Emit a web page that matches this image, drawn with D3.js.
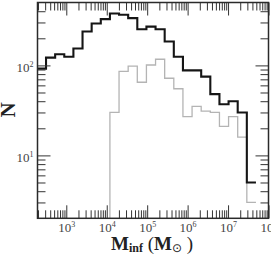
<!DOCTYPE html>
<html>
<head>
<meta charset="utf-8">
<script src="https://cdn.jsdelivr.net/npm/d3@7"></script>
<style>
  html, body { margin: 0; padding: 0; background: #fff; }
  svg { display: block; }
</style>
</head>
<body>
<svg id="chart"></svg>
<script>
// ---- data ----
// log10 bins of M_inf: first lower edge and width (decades)
const binStartLog = 2.273;
const binWidthLog = 0.2257;

// all halos (black)
const countsAll = [92, 122, 133, 125, 154, 238, 292, 327, 378, 365, 335, 252,
                   270, 252, 184, 125, 88, 88, 75, 48, 37, 40, 30, 5];
// subset (grey), zero below 10^4
const countsSub = [0, 0, 0, 0, 0, 0, 0, 0, 30, 86, 98, 65,
                   101, 117, 72, 55, 27, 35, 31, 30, 21, 27, 16, 3];

const xMajor = [1e3, 1e4, 1e5, 1e6, 1e7, 1e8];
const yMajor = [10, 100];
const xDomain = [Math.pow(10, 2.288), 1e8];
const yDomain = [2, 500];

// ---- layout ----
const width = 271, height = 254;
const frame = { left: 37.5, right: 268.5, top: 2.5, bottom: 218.3 };

const svg = d3.select("#chart").attr("width", width).attr("height", height);

const x = d3.scaleLog().domain(xDomain).range([frame.left, frame.right]);
const y = d3.scaleLog().domain(yDomain).range([frame.bottom, frame.top]);

// minor ticks 2..9 x 10^k
function minorTicks(domain) {
  const out = [];
  for (let e = -1; e <= 9; e++) {
    for (let m = 2; m <= 9; m++) {
      const v = m * Math.pow(10, e);
      if (v > domain[0] && v < domain[1]) out.push(v);
    }
  }
  return out;
}

svg.append("clipPath").attr("id", "plot-clip")
  .append("rect")
  .attr("x", frame.left).attr("y", frame.top)
  .attr("width", frame.right - frame.left).attr("height", frame.bottom - frame.top);

// ---- histograms ----
const edges = d3.range(countsAll.length + 1).map(i => Math.pow(10, binStartLog + i * binWidthLog));

function stepPoints(counts) {
  const pts = [];
  counts.forEach((c, i) => {
    if (c <= 0) return;
    if (pts.length === 0) pts.push([edges[i], yDomain[0]]);
    pts.push([edges[i], c]);
  });
  const lastIdx = counts.length - 1;
  pts.push([edges[lastIdx + 1], counts[lastIdx]]);
  return pts;
}

const step = d3.line()
  .x(d => x(d[0]))
  .y(d => y(d[1]))
  .curve(d3.curveStepAfter);

const plot = svg.append("g").attr("clip-path", "url(#plot-clip)");

plot.append("path")
  .attr("d", step(stepPoints(countsSub)))
  .attr("fill", "none")
  .attr("stroke", "#b4b4b4")
  .attr("stroke-width", 1.3);

// black line starts at the frame (first bin partly outside)
const allPts = countsAll.map((c, i) => [edges[i], c]);
allPts.push([edges[countsAll.length], countsAll[countsAll.length - 1]]);
plot.append("path")
  .attr("d", step(allPts))
  .attr("fill", "none")
  .attr("stroke", "#151515")
  .attr("stroke-width", 2.1);

// ---- axes (ticks inward on all sides) ----
const tickColor = "#333";
const majorLen = 13, minorLen = 8;
const serif = "'Liberation Serif', 'DejaVu Serif', serif";

function styleAxis(g) {
  g.select(".domain").remove();
  g.selectAll(".tick line").attr("stroke", tickColor).attr("stroke-width", 1);
}

function supLabels(g, anchor) {
  g.selectAll(".tick text").each(function (d) {
    const t = d3.select(this);
    const exp = Math.round(Math.log10(d));
    t.text(null)
      .attr("fill", "#444")
      .attr("font-family", serif)
      .attr("font-size", 13)
      .attr("text-anchor", anchor);
    t.append("tspan").text("10");
    t.append("tspan").attr("dy", -5).attr("font-size", 8).text(exp);
  });
}

// bottom
const xBot = svg.append("g").attr("transform", `translate(0,${frame.bottom})`)
  .call(d3.axisBottom(x).tickValues(xMajor).tickSize(-majorLen).tickPadding(4.5));
styleAxis(xBot);
supLabels(xBot, "middle");
xBot.selectAll(".tick text").attr("dy", "0.71em");

svg.append("g").attr("transform", `translate(0,${frame.bottom})`)
  .call(d3.axisBottom(x).tickValues(minorTicks(xDomain)).tickSize(-minorLen).tickFormat(""))
  .call(styleAxis);

// top
svg.append("g").attr("transform", `translate(0,${frame.top})`)
  .call(d3.axisTop(x).tickValues(xMajor).tickSize(-majorLen).tickFormat(""))
  .call(styleAxis);
svg.append("g").attr("transform", `translate(0,${frame.top})`)
  .call(d3.axisTop(x).tickValues(minorTicks(xDomain)).tickSize(-minorLen).tickFormat(""))
  .call(styleAxis);

// left
const yLeft = svg.append("g").attr("transform", `translate(${frame.left},0)`)
  .call(d3.axisLeft(y).tickValues(yMajor).tickSize(-majorLen).tickPadding(4));
styleAxis(yLeft);
supLabels(yLeft, "end");
yLeft.selectAll(".tick text").attr("dy", "0.45em");

svg.append("g").attr("transform", `translate(${frame.left},0)`)
  .call(d3.axisLeft(y).tickValues(minorTicks(yDomain)).tickSize(-minorLen).tickFormat(""))
  .call(styleAxis);

// right
svg.append("g").attr("transform", `translate(${frame.right},0)`)
  .call(d3.axisRight(y).tickValues(yMajor).tickSize(-majorLen).tickFormat(""))
  .call(styleAxis);
svg.append("g").attr("transform", `translate(${frame.right},0)`)
  .call(d3.axisRight(y).tickValues(minorTicks(yDomain)).tickSize(-minorLen).tickFormat(""))
  .call(styleAxis);

// frame
svg.append("rect")
  .attr("x", frame.left).attr("y", frame.top)
  .attr("width", frame.right - frame.left).attr("height", frame.bottom - frame.top)
  .attr("fill", "none")
  .attr("stroke", "#2a2a2a")
  .attr("stroke-width", 1.5);

// ---- titles ----
const xTitle = svg.append("text")
  .attr("x", 152)
  .attr("y", 249.5)
  .attr("text-anchor", "middle")
  .attr("font-family", serif)
  .attr("font-weight", "bold")
  .attr("font-size", 19)
  .attr("fill", "#222");
xTitle.append("tspan").text("M");
xTitle.append("tspan").attr("dy", 2).attr("font-size", 12).text("inf");
xTitle.append("tspan").attr("dy", -2).attr("font-weight", "normal").text(" (");
xTitle.append("tspan").text("M");
xTitle.append("tspan").attr("dy", 2).attr("font-size", 12)
  .attr("font-family", "'DejaVu Sans', sans-serif").attr("font-weight", "normal").text("\u2299");
xTitle.append("tspan").attr("dy", -2).attr("font-weight", "normal").text(" )");

svg.append("text")
  .attr("transform", `translate(15,110) rotate(-90)`)
  .attr("text-anchor", "middle")
  .attr("font-family", serif)
  .attr("font-weight", "bold")
  .attr("font-size", 21)
  .attr("fill", "#222")
  .text("N");
</script>
</body>
</html>
